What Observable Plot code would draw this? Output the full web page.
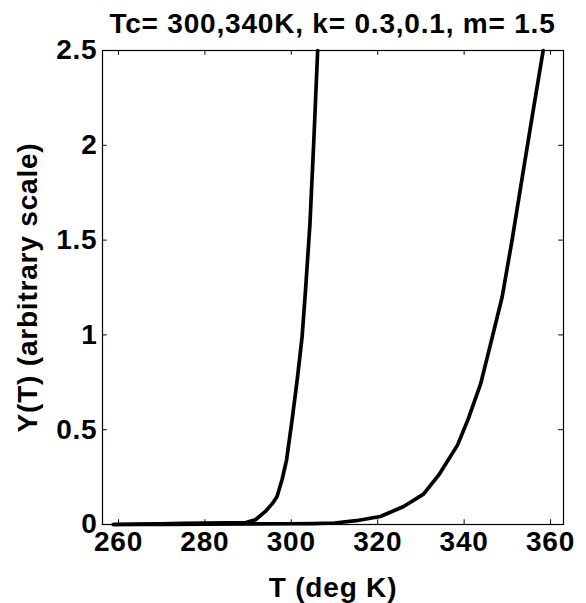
<!DOCTYPE html>
<html><head><meta charset="utf-8">
<script src="https://cdn.jsdelivr.net/npm/d3@7"></script>
<script src="https://cdn.jsdelivr.net/npm/@observablehq/plot@0.6"></script>
<style>
body{margin:0;background:#fff;}
#title{width:586px;height:40px;box-sizing:border-box;padding-top:10px;padding-left:102px;padding-right:23px;text-align:center;font:bold 28px "Liberation Sans",Arial,sans-serif;line-height:28px;letter-spacing:0.8px;color:#000;white-space:nowrap;}
</style></head><body>
<div id="title"></div>
<div id="chart"></div>
<script>
const titleText = "Tc= 300,340K, k= 0.3,0.1, m= 1.5";
const xLabel = "T (deg K)";
const yLabel = "Y(T) (arbitrary scale)";
const xTicks = [260, 280, 300, 320, 340, 360];
const yTicks = [0, 0.5, 1, 1.5, 2, 2.5];
const xDomain = [256.3, 363];
const yDomain = [0, 2.5];

// Curve 1 (Tc = 300 K)
const T1 = [258.8, 265, 270, 275, 280, 285, 289.5, 291.7, 294, 295.6, 296.7, 297.9, 298.9, 300.2, 301.4, 302.5, 303.3, 304.3, 305.2, 306.1];
const Y1 = [0.0, 0.002, 0.004, 0.006, 0.008, 0.009, 0.01, 0.025, 0.069, 0.11, 0.148, 0.24, 0.34, 0.555, 0.77, 0.99, 1.24, 1.58, 2.02, 2.5];
// Curve 2 (Tc = 340 K)
const T2 = [258.8, 270, 280, 290, 300, 305, 310, 315, 320.6, 326, 330.6, 334.1, 338.5, 341, 343.8, 346.1, 348.8, 351.1, 353.8, 356.1, 358.3];
const Y2 = [0, 0.001, 0.002, 0.003, 0.004, 0.005, 0.008, 0.02, 0.042, 0.095, 0.16, 0.26, 0.42, 0.56, 0.74, 0.95, 1.2, 1.5, 1.88, 2.2, 2.5];

document.getElementById("title").textContent = titleText;
const data1 = T1.map((t, i) => ({T: t, Y: Y1[i]}));
const data2 = T2.map((t, i) => ({T: t, Y: Y2[i]}));

const plot = Plot.plot({
  width: 586, height: 563,
  marginTop: 10, marginBottom: 79, marginLeft: 102, marginRight: 23,
  style: {fontFamily: '"Liberation Sans", Arial, sans-serif', fontSize: "28px", fontWeight: "bold", letterSpacing: "0.8px", color: "#000", background: "#fff", overflow: "visible"},
  x: {domain: xDomain},
  y: {domain: yDomain},
  marks: [
    Plot.frame({stroke: "#000", strokeWidth: 1.2}),
    Plot.axisX(xTicks, {tickSize: 0, tickPadding: 7, tickFormat: d => String(d), label: xLabel, labelAnchor: "center", labelOffset: 72, labelArrow: "none"}),
    Plot.axisY(yTicks, {tickSize: 0, tickPadding: 5, tickFormat: d => String(d), label: yLabel, labelAnchor: "center", labelOffset: 85, labelArrow: "none"}),
    Plot.ruleX(xTicks, {x: d => d, y1: yDomain[0], y2: yDomain[0] + 0.025, stroke: "#000"}),
    Plot.ruleX(xTicks, {x: d => d, y1: yDomain[1], y2: yDomain[1] - 0.025, stroke: "#000"}),
    Plot.ruleY(yTicks, {y: d => d, x1: xDomain[0], x2: xDomain[0] + 1.1, stroke: "#000"}),
    Plot.ruleY(yTicks, {y: d => d, x1: xDomain[1], x2: xDomain[1] - 1.1, stroke: "#000"}),
    Plot.line(data1, {x: "T", y: "Y", stroke: "#000", strokeWidth: 3.7}),
    Plot.line(data2, {x: "T", y: "Y", stroke: "#000", strokeWidth: 3.7})
  ]
});
document.getElementById("chart").appendChild(plot);
</script>
</body></html>
